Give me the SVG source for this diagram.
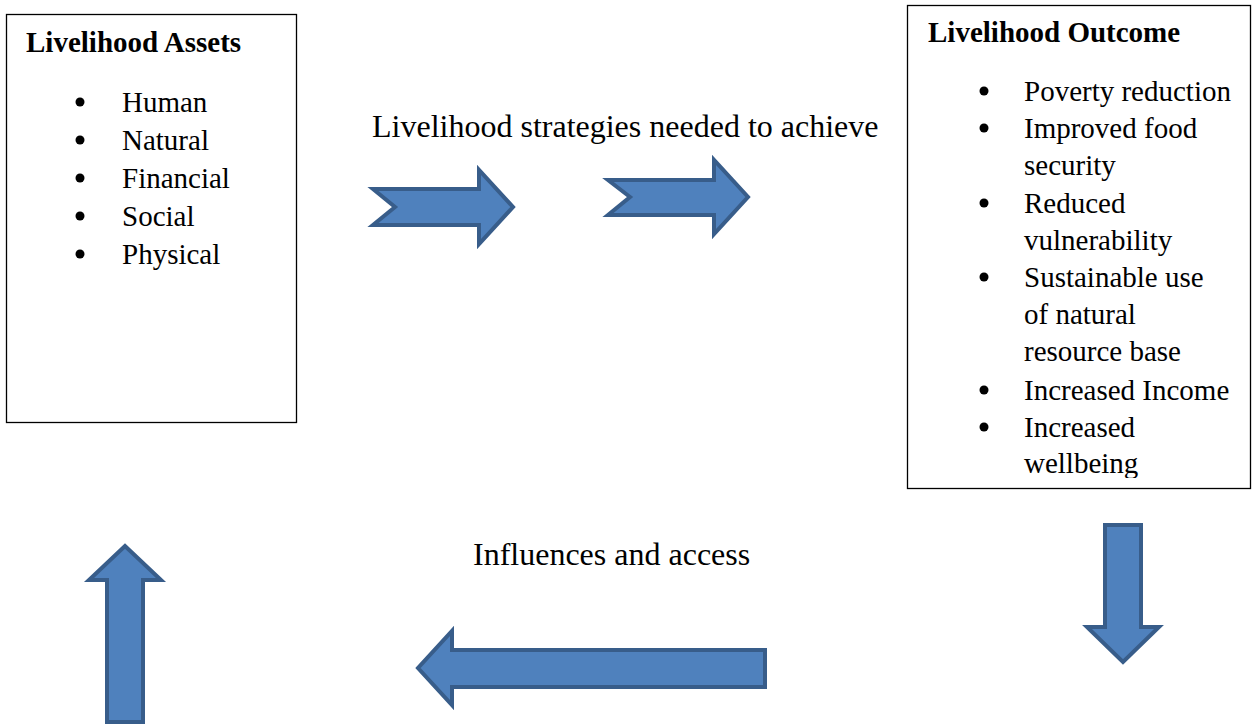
<svg xmlns="http://www.w3.org/2000/svg" width="1252" height="725" viewBox="0 0 1252 725">
<style>
.box{fill:#fff;stroke:#000;stroke-width:1.3}
.t{font-family:"Liberation Serif","Times New Roman",serif;font-size:29px;fill:#000}
.b{font-weight:bold}
.lbl{font-family:"Liberation Serif","Times New Roman",serif;font-size:32px;fill:#000}
.arr{fill:#4F81BD;stroke:#385D8A;stroke-width:4;stroke-linejoin:miter}
.dot{fill:#000}
</style>
<defs>
<clipPath id="clipOut"><rect x="907" y="5" width="345" height="473"/></clipPath>
</defs>
<rect width="1252" height="725" fill="#fff"/>
<g id="assets">
<rect class="box" x="6.5" y="14.5" width="290" height="408"/>
<text class="t b" x="26" y="52">Livelihood Assets</text>
<circle class="dot" cx="80" cy="102" r="4.5"/><text class="t" x="122" y="112">Human</text>
<circle class="dot" cx="80" cy="140" r="4.5"/><text class="t" x="122" y="150">Natural</text>
<circle class="dot" cx="80" cy="178" r="4.5"/><text class="t" x="122" y="188">Financial</text>
<circle class="dot" cx="80" cy="216" r="4.5"/><text class="t" x="122" y="226">Social</text>
<circle class="dot" cx="80" cy="254" r="4.5"/><text class="t" x="122" y="264">Physical</text>
</g>
<g id="outcome">
<rect class="box" x="907.5" y="5.5" width="343" height="483"/>
<text class="t b" x="928" y="42">Livelihood Outcome</text>
<g clip-path="url(#clipOut)">
<circle class="dot" cx="984" cy="91" r="4.5"/><text class="t" x="1024" y="101">Poverty reduction</text>
<circle class="dot" cx="984" cy="128" r="4.5"/><text class="t" x="1024" y="138">Improved food</text>
<text class="t" x="1024" y="175">security</text>
<circle class="dot" cx="984" cy="203" r="4.5"/><text class="t" x="1024" y="213">Reduced</text>
<text class="t" x="1024" y="250">vulnerability</text>
<circle class="dot" cx="984" cy="277" r="4.5"/><text class="t" x="1024" y="287">Sustainable use</text>
<text class="t" x="1024" y="324">of natural</text>
<text class="t" x="1024" y="361">resource base</text>
<circle class="dot" cx="984" cy="390" r="4.5"/><text class="t" x="1024" y="400">Increased Income</text>
<circle class="dot" cx="984" cy="427" r="4.5"/><text class="t" x="1024" y="437">Increased</text>
<text class="t" x="1024" y="473">wellbeing</text>
</g>
</g>
<g id="labels">
<text class="lbl" x="372" y="137" font-size="31.5">Livelihood strategies needed to achieve</text>
<text class="lbl" x="473" y="565">Influences and access</text>
</g>
<g id="connectors">
<polygon class="arr" points="373,189 479,189 479,170 513,207 479,244 479,225 373,225 395,207"/>
<polygon class="arr" points="608,180 714,180 714,160 748,197 714,234 714,215 608,215 630,197"/>
<polygon class="arr" points="1105,525 1141,525 1141,627 1159,627 1123,662 1087,627 1105,627"/>
<polygon class="arr" points="107,722 143,722 143,580 161,580 125,546 89,580 107,580"/>
<polygon class="arr" points="765,650 765,687 452,687 452,705 418,668 452,631 452,650"/>
</g>
</svg>
